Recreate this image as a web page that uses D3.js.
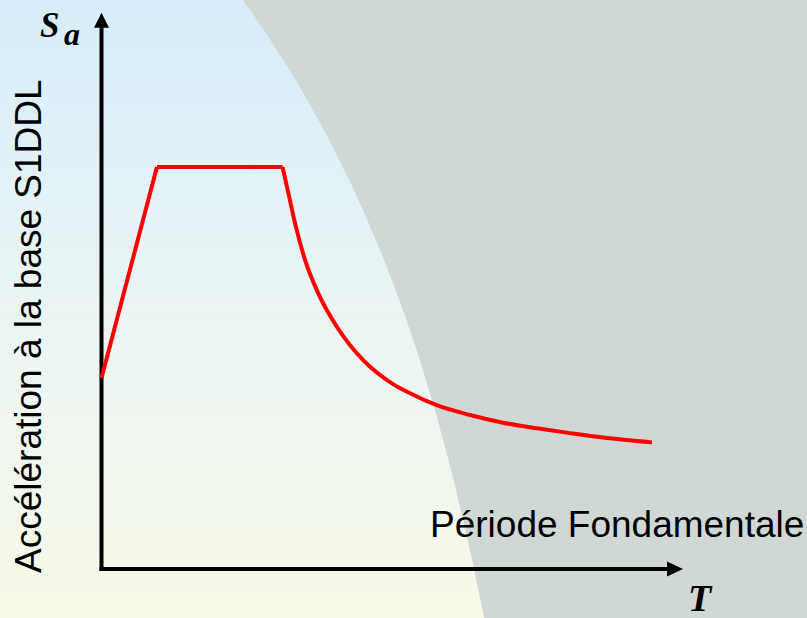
<!DOCTYPE html>
<html>
<head>
<meta charset="utf-8">
<script src="https://cdn.jsdelivr.net/npm/d3@7"></script>
<style>
  html, body { margin: 0; padding: 0; background: #fff; }
  svg { display: block; }
</style>
</head>
<body>
<svg id="chart" width="807" height="618"></svg>
<script>
// ---- Data (T in s, Sa relative to plateau) ----
const riseT  = [0, 0.286];
const riseSa = [0.475, 1.0];
const plateauT  = [0.286, 0.934];
const plateauSa = [1.0, 1.0];
const decayT  = [0.934, 0.964, 1.003, 1.050, 1.117, 1.215, 1.349, 1.504, 1.592, 1.726, 1.901, 2.071, 2.247, 2.417, 2.587, 2.840];
const decaySa = [1.000, 0.935, 0.851, 0.769, 0.687, 0.602, 0.520, 0.460, 0.437, 0.408, 0.383, 0.364, 0.350, 0.338, 0.327, 0.315];

const yAxisLabel = "Accélération à la base S1DDL";
const xAxisLabel = "Période Fondamentale";
const xSymbol = "T";
const ySymbol = "S";
const ySub = "a";

// Decorative background shape: cubic Bézier boundary (fractions of width/height)
const bgCtrlFx = [0.301, 0.480, 0.550, 0.600];
const bgCtrlFy = [0.000, 0.324, 0.676, 1.000];

const W = 807, H = 618;
const svg = d3.select("#chart");

// background gradient
const defs = svg.append("defs");
const grad = defs.append("linearGradient").attr("id", "bg").attr("x1", 0).attr("y1", 0).attr("x2", 0).attr("y2", 1);
grad.append("stop").attr("offset", "0%").attr("stop-color", "#d7edfb");
grad.append("stop").attr("offset", "55%").attr("stop-color", "#ecf6f3");
grad.append("stop").attr("offset", "100%").attr("stop-color", "#f7f9e8");
svg.append("rect").attr("width", W).attr("height", H).attr("fill", "url(#bg)");

const bx = d3.scaleLinear().domain([0, 1]).range([0, W]);
const by = d3.scaleLinear().domain([0, 1]).range([0, H]);
const cp = bgCtrlFx.map((fx, i) => [bx(fx), by(bgCtrlFy[i])]);
const p = d3.path();
p.moveTo(cp[0][0], cp[0][1]);
p.bezierCurveTo(cp[1][0], cp[1][1], cp[2][0], cp[2][1], cp[3][0], cp[3][1]);
p.lineTo(W, H);
p.lineTo(W, 0);
p.closePath();
svg.append("path").attr("d", p.toString()).attr("fill", "#cfd8d5");

// scales
const x = d3.scaleLinear().domain([0, 3]).range([101.5, 683]);
const y = d3.scaleLinear().domain([0, 1]).range([569, 167]);
const yTop = 1.384;

// axes
const axisG = svg.append("g");
axisG.append("line")
  .attr("x1", x(0)).attr("y1", y(0) + 2)
  .attr("x2", x(0)).attr("y2", y(yTop) + 14)
  .attr("stroke", "#000").attr("stroke-width", 4);
axisG.append("path")
  .attr("d", `M${x(0)},${y(yTop)} L${x(0) + 7.5},${y(yTop) + 15} L${x(0) - 7.5},${y(yTop) + 15} Z`)
  .attr("fill", "#000");
axisG.append("line")
  .attr("x1", x(0) - 2).attr("y1", y(0))
  .attr("x2", x(3) - 14).attr("y2", y(0))
  .attr("stroke", "#000").attr("stroke-width", 4);
axisG.append("path")
  .attr("d", `M${x(3)},${y(0)} L${x(3) - 16},${y(0) - 7.5} L${x(3) - 16},${y(0) + 7.5} Z`)
  .attr("fill", "#000");

// spectrum
const line = d3.line().x(d => x(d[0])).y(d => y(d[1]));
const curve = d3.line().x(d => x(d[0])).y(d => y(d[1])).curve(d3.curveMonotoneX);
const zip = (a, b) => a.map((v, i) => [v, b[i]]);
const red = "#ff0000";
svg.append("path").attr("d", line(zip(riseT, riseSa)))
  .attr("fill", "none").attr("stroke", red).attr("stroke-width", 4);
svg.append("path").attr("d", line(zip(plateauT, plateauSa)))
  .attr("fill", "none").attr("stroke", red).attr("stroke-width", 4);
svg.append("path").attr("d", curve(zip(decayT, decaySa)))
  .attr("fill", "none").attr("stroke", red).attr("stroke-width", 4);

// labels
svg.append("text")
  .attr("transform", `translate(41,573) rotate(-90)`)
  .attr("font-family", "Liberation Sans, Arial, sans-serif")
  .attr("font-size", 37)
  .attr("fill", "#000")
  .text(yAxisLabel);

svg.append("text")
  .attr("x", 430).attr("y", 537)
  .attr("font-family", "Liberation Sans, Arial, sans-serif")
  .attr("font-size", 37)
  .attr("fill", "#000")
  .text(xAxisLabel);

svg.append("text")
  .attr("x", 40).attr("y", 37)
  .attr("font-family", "Liberation Serif, serif")
  .attr("font-weight", "bold").attr("font-style", "italic")
  .attr("font-size", 35)
  .attr("fill", "#000")
  .text(ySymbol);
svg.append("text")
  .attr("x", 64).attr("y", 45)
  .attr("font-family", "Liberation Serif, serif")
  .attr("font-weight", "bold").attr("font-style", "italic")
  .attr("font-size", 32)
  .attr("fill", "#000")
  .text(ySub);

svg.append("text")
  .attr("x", 688).attr("y", 611)
  .attr("font-family", "Liberation Serif, serif")
  .attr("font-weight", "bold").attr("font-style", "italic")
  .attr("font-size", 38)
  .attr("fill", "#000")
  .text(xSymbol);
</script>
</body>
</html>
